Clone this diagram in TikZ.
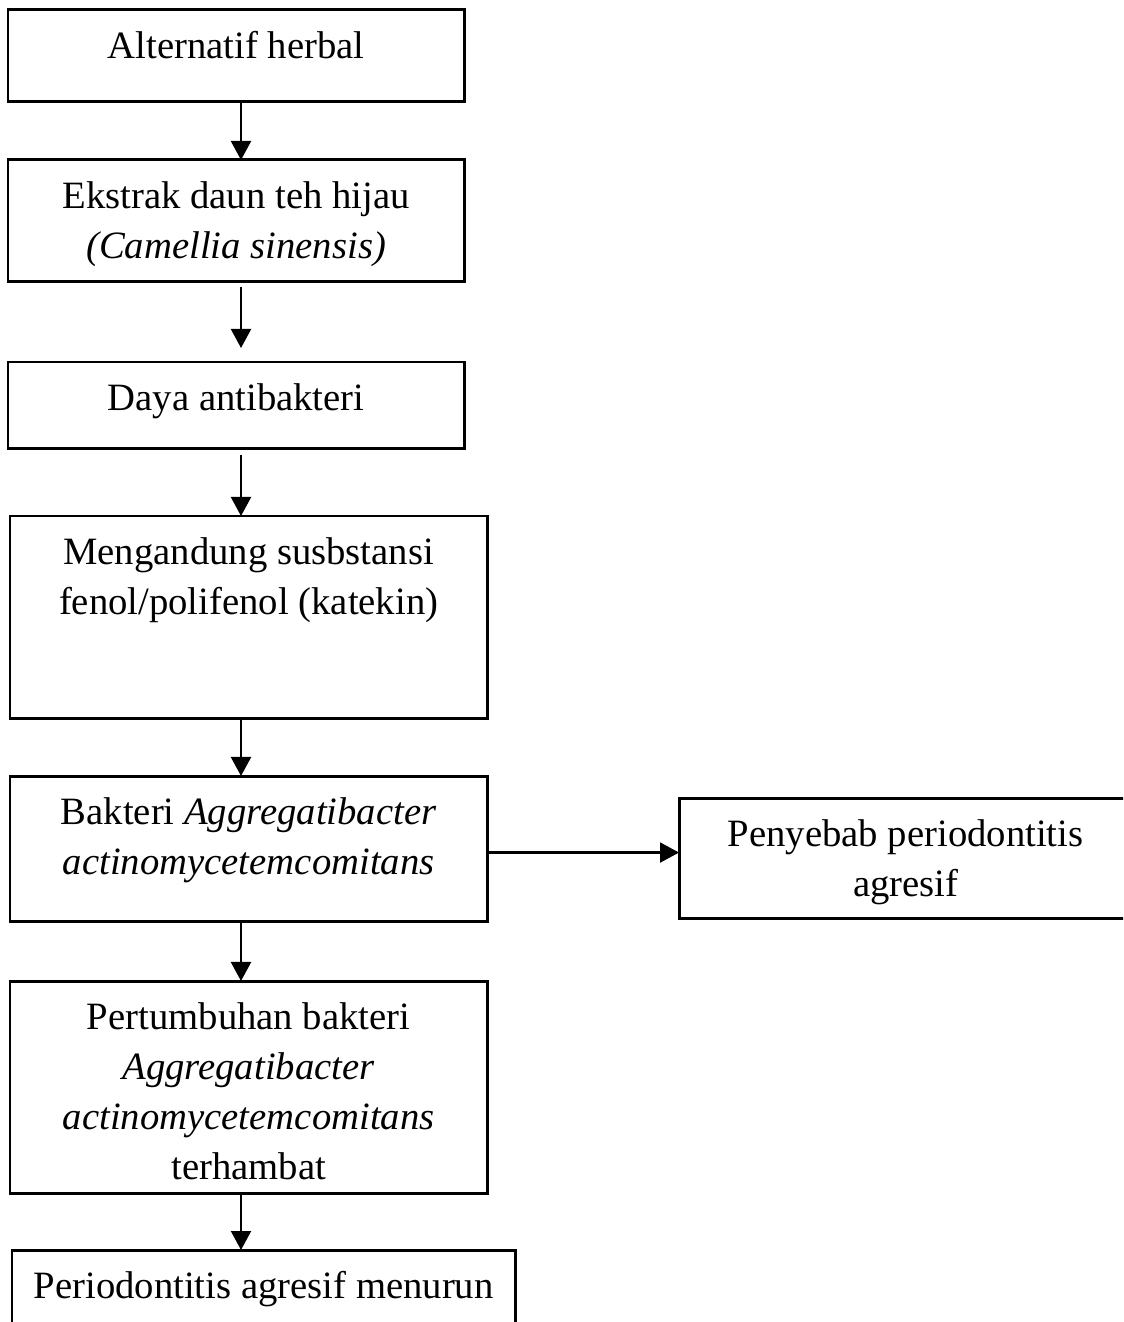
\documentclass[tikz,border=0pt]{standalone}
\usepackage{fontspec}
\setmainfont{Liberation Serif}
\usetikzlibrary{arrows.meta,positioning}
\newcommand{\boxlines}[3]{\parbox[c][#1][t]{#2}{\centering\rule{0pt}{0.48cm}#3}}

\begin{document}
\begin{tikzpicture}[x=0.01cm, y=-0.01cm, >={Triangle[length=0.19cm,width=0.2cm]},
      flow/.style={draw=black,line width=0.85pt,inner sep=0pt,outer sep=0pt,anchor=north west,
        font=\fontsize{11pt}{0.5cm}\selectfont},
      link/.style={line width=0.6pt,->}]
      \clip (0,0) rectangle (1123,1322);
      \node[flow] at (8,10)    (herbal)  {\boxlines{0.91cm}{4.56cm}{Alternatif herbal}};
      \node[flow] at (8,160)   (ekstrak) {\boxlines{1.21cm}{4.56cm}{Ekstrak daun teh hijau\\\textit{(Camellia sinensis)}}};
      \node[flow] at (8,362)   (daya)    {\boxlines{0.86cm}{4.56cm}{Daya antibakteri}};
      \node[flow] at (10,516)  (fenol)   {\boxlines{2.02cm}{4.77cm}{Mengandung susbstansi\\fenol/polifenol (katekin)}};
      \node[flow] at (10,776)  (bakteri) {\boxlines{1.45cm}{4.77cm}{Bakteri \textit{Aggregatibacter}\\\textit{actinomycetemcomitans}}};
      \node[flow] at (679,798) (sebab)   {\boxlines{1.20cm}{4.53cm}{Penyebab periodontitis\\agresif}};
      \node[flow] at (10,981)  (hambat)  {\boxlines{2.12cm}{4.77cm}{Pertumbuhan bakteri\\\textit{Aggregatibacter}\\\textit{actinomycetemcomitans}\\terhambat}};
      \node[flow] at (12,1250) (turun)   {\boxlines{1.00cm}{5.03cm}{Periodontitis agresif menurun}};
      \coordinate (spine) at (241,0);
      \draw[link] (herbal.south -| spine) -- (ekstrak.north -| spine);
      \draw[link,shorten <=0.06cm,shorten >=0.14cm] (ekstrak.south -| spine) -- (daya.north -| spine);
      \draw[link,shorten <=0.07cm] (daya.south -| spine) -- (fenol.north -| spine);
      \draw[link] (fenol.south -| spine) -- (bakteri.north -| spine);
      \draw[link] ([yshift=-0.04cm]bakteri.east) -- ([yshift=-0.04cm]bakteri.east -| sebab.west);
      \draw[link] (bakteri.south -| spine) -- (hambat.north -| spine);
      \draw[link] (hambat.south -| spine) -- (turun.north -| spine);
\end{tikzpicture}
\end{document}
